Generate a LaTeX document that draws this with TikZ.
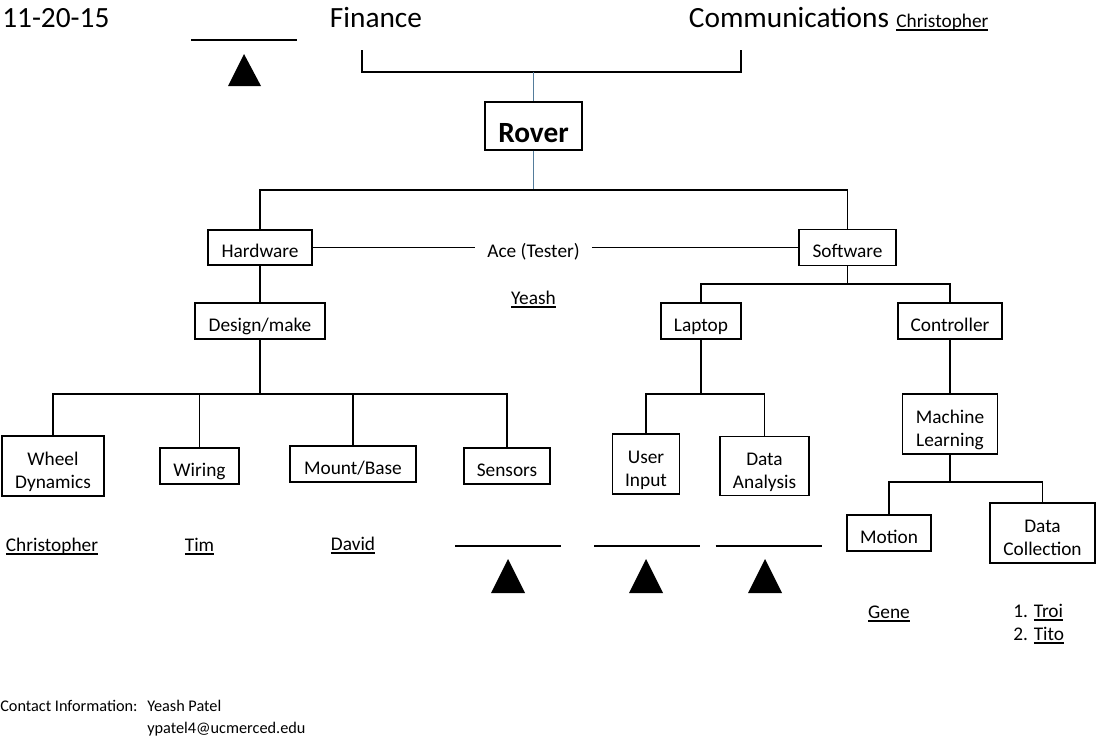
\documentclass[tikz,border=0pt]{standalone}
\usepackage{fontspec}
\setmainfont{Carlito}
\definecolor{roverblue}{RGB}{84,124,155}
% underline placed just under the baseline, as a word processor does
\newcommand{\nameline}[1]{\setbox0\hbox{#1}\rlap{\vrule height -1.5pt depth 2.7pt width \wd0}\box0}

\begin{document}
\begin{tikzpicture}[x=0.75pt,y=0.75pt,yscale=-1,
  unit/.style={draw, line width=0.9pt, align=center, inner sep=0pt, text height=15pt, text depth=0pt, font=\fontsize{14.5}{17.6}\selectfont},
  twoline/.style={text height=34pt, text depth=0pt},
  txt/.style={inner sep=0pt, anchor=base, font=\fontsize{14.5}{17.6}\selectfont},
  bigtxt/.style={inner sep=0pt, anchor=base, font=\fontsize{22}{26}\selectfont},
  contacttxt/.style={inner sep=0pt, anchor=base west, font=\fontsize{12.2}{14}\selectfont},
  wire/.style={line width=0.9pt},
  roverwire/.style={line width=0.9pt, draw=roverblue}]
\useasboundingbox (0,0) rectangle (1109,740);

% Header
\node[bigtxt, anchor=base west] (date) at (2,27) {11-20-15};
\node[bigtxt] (finance) at (376,27) {Finance};
\node[bigtxt] (comms) at (789,27) {Communications};
\node[txt, anchor=base west] (commsname) at ([xshift=5pt]comms.base east) {\nameline{Christopher}};
\draw[wire] (191,40) -- (297,40);
\fill (244,54) -- (261,86) -- (228,86) -- cycle;

% Rover
\node[unit, minimum width=72.75pt, minimum height=36pt, text height=24pt, font=\fontsize{22}{26}\selectfont\bfseries] (rover) at (533.5,126) {Rover};
\coordinate (finfoot) at (362,50);
\coordinate (commfoot) at (741,50);
\coordinate (topsplit) at (533.5,72);
\draw[wire] (finfoot) |- (topsplit) -| (commfoot);
\draw[roverwire] (topsplit) -- (rover);

% Hardware / Software
\node[unit, minimum width=78pt, minimum height=26.25pt] (hw) at (260,247.5) {Hardware};
\node[unit, minimum width=72.75pt, minimum height=27pt] (sw) at (847.5,247.5) {Software};
\node[txt, inner xsep=9pt] (ace) at (533.5,257) {Ace (Tester)};
\node[txt] (yeash) at (533.5,304) {\nameline{Yeash}};
\coordinate (roversplit) at (533.5,190);
\draw[roverwire] (rover) -- (roversplit);
\draw[wire] (hw.north) |- (roversplit) -| (sw.north);
\draw[wire] (hw.east) -- (hw.east -| ace.west);
\draw[wire] (sw.west -| ace.east) -- (sw.west);

% Hardware branch
\node[unit, minimum width=97.5pt, minimum height=27pt] (design) at (260,321) {Design/make};
\draw[wire] (hw) -- (design);
\node[unit, twoline, minimum width=76.5pt, minimum height=45pt] (wheel) at (53,466) {Wheel\\Dynamics};
\node[unit, minimum width=59.25pt, minimum height=27pt] (wiring) at (199.5,466) {Wiring};
\node[unit, minimum width=94.5pt, minimum height=27pt] (mount) at (353,464) {Mount/Base};
\node[unit, minimum width=64.5pt, minimum height=27pt] (sensors) at (507,466) {Sensors};
\coordinate (designsplit) at (260,394);
\draw[wire] (design) -- (designsplit);
\draw[wire] (wheel.north) |- (designsplit) -| (sensors.north);
\foreach \n in {wiring,mount}
  \draw[wire] (\n.north) -- (\n.north |- designsplit);
\node[txt] (wheelname) at (52,551) {\nameline{Christopher}};
\node[txt] (wiringname) at (199.5,551) {\nameline{Tim}};
\node[txt] (mountname) at (353,550) {\nameline{David}};

% Software branch
\node[unit, minimum width=60pt, minimum height=27pt] (laptop) at (701,321) {Laptop};
\node[unit, minimum width=78pt, minimum height=27pt] (ctrl) at (950,321) {Controller};
\coordinate (swsplit) at (847.5,284);
\draw[wire] (sw) -- (swsplit);
\draw[wire] (laptop.north) |- (swsplit) -| (ctrl.north);
\node[unit, twoline, minimum width=50.25pt, minimum height=45pt] (input) at (646,464) {User\\Input};
\node[unit, twoline, minimum width=66.75pt, minimum height=44.25pt] (analysis) at (764.5,466) {Data\\Analysis};
\coordinate (laptopsplit) at (701,394);
\draw[wire] (laptop) -- (laptopsplit);
\draw[wire] (input.north) |- (laptopsplit) -| (analysis.north);
\node[unit, twoline, minimum width=71.25pt, minimum height=45pt] (ml) at (950,424) {Machine\\Learning};
\draw[wire] (ctrl) -- (ml);
\node[unit, minimum width=63pt, minimum height=27pt] (motion) at (889,533) {Motion};
\node[unit, twoline, minimum width=78.75pt, minimum height=45pt] (collect) at (1042.5,533) {Data\\Collection};
\coordinate (mlsplit) at (950,482);
\draw[wire] (ml) -- (mlsplit);
\draw[wire] (motion.north) |- (mlsplit) -| (collect.north);
\node[txt] (motionname) at (889,618) {\nameline{Gene}};
\node[txt, anchor=base west] (collectname1) at (1013,617) {1. \nameline{Troi}};
\node[txt, anchor=base west] (collectname2) at (1013,640) {2. \nameline{Tito}};

% Open seats
\foreach \x/\c in {508/508, 647/646, 768.5/765} {
  \draw[wire] (\x-53,546) -- (\x+53,546);
  \fill (\c,559) -- (\c+17,593) -- (\c-17,593) -- cycle;
}

% Contact
\node[contacttxt] (contact) at (0,711) {Contact Information:};
\node[contacttxt] (contactname) at (147,711) {Yeash Patel};
\node[contacttxt] (contactmail) at (147,733) {ypatel4@ucmerced.edu};

\end{tikzpicture}
\end{document}
